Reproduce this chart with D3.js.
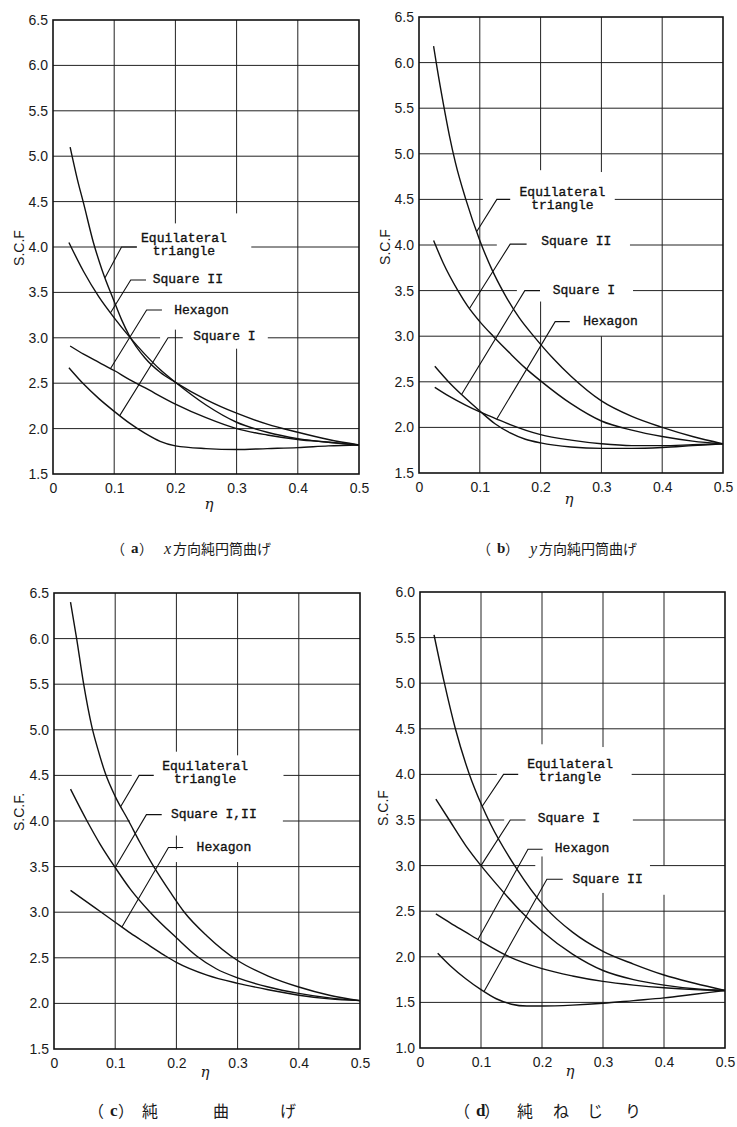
<!DOCTYPE html>
<html>
<head>
<meta charset="utf-8">
<script src="https://cdn.jsdelivr.net/npm/d3@7"></script>
<style>
  html, body { margin: 0; padding: 0; background: #fff; }
  svg { display: block; }
  .tick text { font-family: "Liberation Sans", Arial, sans-serif; font-size: 14px; fill: #1a1a1a; }
  .note { font-family: "Liberation Mono", monospace; font-size: 13px; fill: #111; stroke: #111; stroke-width: 0.35px; }
  .ytitle { font-family: "Liberation Sans", Arial, sans-serif; font-size: 14px; fill: #1a1a1a; }
  .eta { font-family: "DejaVu Serif", serif; font-style: italic; font-size: 15px; fill: #1a1a1a; }
  .cap { font-family: "Noto Sans CJK JP", sans-serif; fill: #1a1a1a; }
  .cap-lat { font-family: "Liberation Serif", serif; fill: #1a1a1a; }
</style>
</head>
<body>
<svg id="chart" width="737" height="1127"></svg>
<script>
// ---- axis ticks ----
const etaTicks = [0, 0.1, 0.2, 0.3, 0.4, 0.5];
const scfTicksHigh = [1.5, 2.0, 2.5, 3.0, 3.5, 4.0, 4.5, 5.0, 5.5, 6.0, 6.5];
const scfTicksLow = [1.0, 1.5, 2.0, 2.5, 3.0, 3.5, 4.0, 4.5, 5.0, 5.5, 6.0];

// ---- (a) cylindrical bending in x ----  [eta, S.C.F]
const aTriangle = [[0.028,5.10],[0.04,4.74],[0.05,4.48],[0.066,4.05],[0.08,3.75],[0.1,3.40],[0.112,3.20],[0.125,3.02],[0.15,2.78],[0.175,2.62],[0.2,2.51],[0.25,2.32],[0.3,2.17],[0.35,2.05],[0.4,1.96],[0.45,1.88],[0.5,1.82]];
const aSquare2  = [[0.026,4.05],[0.05,3.73],[0.075,3.45],[0.1,3.22],[0.125,3.01],[0.15,2.82],[0.175,2.65],[0.2,2.51],[0.25,2.26],[0.3,2.07],[0.35,1.96],[0.4,1.89],[0.45,1.85],[0.5,1.82]];
const aHexagon  = [[0.028,2.91],[0.05,2.82],[0.075,2.73],[0.1,2.64],[0.125,2.54],[0.15,2.45],[0.2,2.27],[0.25,2.12],[0.3,2.00],[0.35,1.93],[0.4,1.88],[0.45,1.85],[0.5,1.82]];
const aSquare1  = [[0.026,2.67],[0.05,2.49],[0.075,2.33],[0.1,2.19],[0.125,2.06],[0.15,1.95],[0.175,1.86],[0.2,1.81],[0.25,1.78],[0.3,1.77],[0.35,1.78],[0.4,1.79],[0.45,1.81],[0.5,1.82]];

// ---- (b) cylindrical bending in y ----
const bTriangle = [[0.024,6.18],[0.03,5.93],[0.04,5.55],[0.05,5.20],[0.06,4.90],[0.077,4.50],[0.1,4.05],[0.12,3.73],[0.14,3.47],[0.165,3.20],[0.19,2.99],[0.22,2.76],[0.25,2.56],[0.3,2.29],[0.35,2.12],[0.4,2.00],[0.45,1.90],[0.5,1.82]];
const bSquare2  = [[0.024,4.05],[0.04,3.80],[0.064,3.50],[0.08,3.33],[0.1,3.16],[0.122,3.00],[0.15,2.81],[0.175,2.65],[0.2,2.51],[0.25,2.26],[0.3,2.07],[0.35,1.97],[0.4,1.90],[0.45,1.85],[0.5,1.82]];
const bSquare1  = [[0.026,2.67],[0.05,2.49],[0.07,2.36],[0.1,2.18],[0.125,2.04],[0.15,1.94],[0.175,1.87],[0.2,1.83],[0.25,1.785],[0.3,1.77],[0.35,1.77],[0.4,1.78],[0.45,1.80],[0.5,1.82]];
const bHexagon  = [[0.026,2.44],[0.05,2.34],[0.075,2.25],[0.1,2.17],[0.125,2.10],[0.15,2.03],[0.2,1.92],[0.25,1.86],[0.3,1.82],[0.35,1.80],[0.4,1.80],[0.45,1.81],[0.5,1.82]];

// ---- (c) pure bending ----
const cTriangle = [[0.027,6.40],[0.037,6.00],[0.048,5.52],[0.062,5.03],[0.072,4.78],[0.084,4.52],[0.1,4.27],[0.122,4.00],[0.14,3.77],[0.163,3.50],[0.19,3.22],[0.213,3.00],[0.25,2.74],[0.3,2.47],[0.35,2.30],[0.4,2.18],[0.45,2.09],[0.5,2.03]];
const cSquare   = [[0.027,4.35],[0.054,4.00],[0.075,3.75],[0.1,3.49],[0.125,3.25],[0.157,3.00],[0.2,2.72],[0.233,2.52],[0.265,2.38],[0.3,2.28],[0.35,2.18],[0.4,2.11],[0.45,2.06],[0.5,2.03]];
const cHexagon  = [[0.027,3.24],[0.05,3.13],[0.075,3.01],[0.1,2.89],[0.125,2.77],[0.15,2.66],[0.18,2.53],[0.2,2.45],[0.25,2.31],[0.3,2.22],[0.35,2.15],[0.4,2.09],[0.45,2.05],[0.5,2.03]];

// ---- (d) pure torsion ----
const dTriangle = [[0.023,5.53],[0.04,5.00],[0.058,4.50],[0.081,4.00],[0.1,3.68],[0.116,3.45],[0.157,2.98],[0.204,2.55],[0.25,2.27],[0.3,2.06],[0.35,1.92],[0.4,1.80],[0.45,1.71],[0.5,1.63]];
const dSquare1  = [[0.026,3.73],[0.048,3.50],[0.075,3.22],[0.1,3.00],[0.125,2.80],[0.168,2.48],[0.2,2.28],[0.25,2.03],[0.3,1.85],[0.35,1.75],[0.4,1.69],[0.45,1.65],[0.5,1.63]];
const dHexagon  = [[0.026,2.47],[0.05,2.37],[0.075,2.27],[0.1,2.17],[0.14,2.02],[0.2,1.87],[0.25,1.79],[0.3,1.73],[0.35,1.69],[0.4,1.66],[0.45,1.64],[0.5,1.63]];
const dSquare2  = [[0.029,2.04],[0.05,1.90],[0.075,1.76],[0.1,1.64],[0.125,1.54],[0.15,1.48],[0.175,1.46],[0.2,1.46],[0.25,1.47],[0.3,1.49],[0.35,1.52],[0.4,1.55],[0.45,1.59],[0.5,1.63]];

// ---- layout of the four panels ----
const panels = [
  {
    box: {left: 53, right: 359, top: 20, bottom: 474},
    yDomain: [1.5, 6.5], yTicks: scfTicksHigh,
    series: [aTriangle, aSquare2, aHexagon, aSquare1],
    yTitle: "S.C.F", yTitleAt: [19, 248], etaAt: [209, 504],
    vGaps: [[0.2, 3.09, 4.26], [0.3, 2.88, 4.37]],
    hGaps: [[4.0, 0.137, 0.324], [3.0, 0.175, 0.351]],
    notes: [
      {series: aTriangle, tip: 0.085, elbow: [0.112, 4.0], end: [0.137, 4.0], text: ["Equilateral", "triangle"], at: [0.214, 4.017], anchor: "middle"},
      {series: aSquare2, tip: 0.094, elbow: [0.127, 3.637], end: [0.152, 3.637], text: ["Square II"], at: [0.163, 3.637], anchor: "start"},
      {series: aHexagon, tip: 0.094, elbow: [0.153, 3.306], end: [0.178, 3.306], text: ["Hexagon"], at: [0.198, 3.306], anchor: "start"},
      {series: aSquare1, tip: 0.109, elbow: [0.188, 3.0], end: [0.212, 3.0], text: ["Square I"], at: [0.229, 3.009], anchor: "start"}
    ],
    capY: 548, capSize: 14,
    caption: [["（", 58, "cjk"], ["a", 78, "bold"], ["）", 86, "cjk"], ["x", 111, "ital"], ["方向純円筒曲げ", 120, "cjk"]]
  },
  {
    box: {left: 419, right: 723, top: 17, bottom: 473},
    yDomain: [1.5, 6.5], yTicks: scfTicksHigh,
    series: [bTriangle, bSquare2, bSquare1, bHexagon],
    yTitle: "S.C.F", yTitleAt: [385, 247], etaAt: [569, 499],
    vGaps: [[0.2, 3.38, 4.82], [0.3, 3.0, 4.8]],
    hGaps: [[4.5, 0.105, 0.322], [4.0, 0.128, 0.347], [3.5, 0.161, 0.352]],
    notes: [
      {series: bTriangle, tip: 0.095, elbow: [0.128, 4.5], end: [0.15, 4.5], text: ["Equilateral", "triangle"], at: [0.236, 4.5], anchor: "middle"},
      {series: bSquare2, tip: 0.083, elbow: [0.15, 4.01], end: [0.177, 4.01], text: ["Square II"], at: [0.201, 4.033], anchor: "start"},
      {series: bSquare1, tip: 0.07, elbow: [0.174, 3.5], end: [0.199, 3.5], text: ["Square I"], at: [0.22, 3.5], anchor: "start"},
      {series: bHexagon, tip: 0.128, elbow: [0.224, 3.16], end: [0.248, 3.16], text: ["Hexagon"], at: [0.27, 3.159], anchor: "start"}
    ],
    capY: 548, capSize: 14,
    caption: [["（", 58, "cjk"], ["b", 78, "bold"], ["）", 86, "cjk"], ["y", 111, "ital"], ["方向純円筒曲げ", 120, "cjk"]]
  },
  {
    box: {left: 54, right: 360, top: 593, bottom: 1049},
    yDomain: [1.5, 6.5], yTicks: scfTicksHigh,
    series: [cTriangle, cSquare, cHexagon],
    yTitle: "S.C.F.", yTitleAt: [19, 812], etaAt: [205, 1072],
    vGaps: [[0.2, 3.84, 4.76], [0.2, 3.55, 3.69], [0.3, 3.55, 4.72]],
    hGaps: [[4.5, 0.127, 0.375], [4.0, 0.124, 0.374]],
    notes: [
      {series: cTriangle, tip: 0.109, elbow: [0.139, 4.5], end: [0.163, 4.5], text: ["Equilateral", "triangle"], at: [0.247, 4.523], anchor: "middle"},
      {series: cSquare, tip: 0.1, elbow: [0.151, 4.07], end: [0.176, 4.07], text: ["Square I,II"], at: [0.191, 4.069], anchor: "start"},
      {series: cHexagon, tip: 0.111, elbow: [0.187, 3.71], end: [0.211, 3.71], text: ["Hexagon"], at: [0.233, 3.712], anchor: "start"}
    ],
    capY: 1110, capSize: 16,
    caption: [["（", 34, "cjk"], ["c", 56, "bold"], ["）", 64, "cjk"], ["純", 88, "cjk"], ["曲", 159, "cjk"], ["げ", 226, "cjk"]]
  },
  {
    box: {left: 420, right: 725, top: 592, bottom: 1048},
    yDomain: [1.0, 6.0], yTicks: scfTicksLow,
    series: [dTriangle, dSquare1, dHexagon, dSquare2],
    yTitle: "S.C.F", yTitleAt: [383, 808], etaAt: [570, 1071],
    vGaps: [[0.2, 3.1, 4.33], [0.3, 2.7, 4.3], [0.4, 2.68, 3.0]],
    hGaps: [[4.0, 0.126, 0.347], [3.5, 0.138, 0.349], [3.0, 0.189, 0.377]],
    notes: [
      {series: dTriangle, tip: 0.102, elbow: [0.137, 4.0], end: [0.161, 4.0], text: ["Equilateral", "triangle"], at: [0.246, 4.032], anchor: "middle"},
      {series: dSquare1, tip: 0.1, elbow: [0.148, 3.5], end: [0.173, 3.5], text: ["Square I"], at: [0.193, 3.514], anchor: "start"},
      {series: dHexagon, tip: 0.095, elbow: [0.177, 3.18], end: [0.201, 3.18], text: ["Hexagon"], at: [0.221, 3.19], anchor: "start"},
      {series: dSquare2, tip: 0.105, elbow: [0.208, 2.85], end: [0.234, 2.85], text: ["Square II"], at: [0.25, 2.853], anchor: "start"}
    ],
    capY: 1110, capSize: 16,
    caption: [["（", 34, "cjk"], ["d", 56, "bold"], ["）", 64, "cjk"], ["純", 97, "cjk"], ["ね", 133, "cjk"], ["じ", 167, "cjk"], ["り", 205, "cjk"]]
  }
];

const svg = d3.select("#chart");

// split [lo, hi] into drawn pieces around the given gaps
function pieces(lo, hi, gaps) {
  const g = gaps.slice().sort((p, q) => p[0] - q[0]);
  const out = [];
  let cur = lo;
  g.forEach(([a, b]) => { if (a > cur) out.push([cur, a]); cur = Math.max(cur, b); });
  if (cur < hi) out.push([cur, hi]);
  return out;
}

// linear read-off of a curve at a given eta
function valueAt(series, eta) {
  for (let i = 1; i < series.length; i++) {
    const [x0, y0] = series[i - 1], [x1, y1] = series[i];
    if (eta <= x1) return y0 + (y1 - y0) * (eta - x0) / (x1 - x0);
  }
  return series[series.length - 1][1];
}

panels.forEach(p => {
  const x = d3.scaleLinear().domain([0, 0.5]).range([p.box.left, p.box.right]);
  const y = d3.scaleLinear().domain(p.yDomain).range([p.box.bottom, p.box.top]);
  const g = svg.append("g");

  // grid
  const grid = g.append("g").attr("stroke", "#222").attr("stroke-width", 1).attr("fill", "none");
  etaTicks.filter(t => t > 0 && t < 0.5).forEach(t => {
    const gaps = p.vGaps.filter(d => Math.abs(d[0] - t) < 1e-9).map(d => [d[1], d[2]]);
    pieces(p.yDomain[0], p.yDomain[1], gaps).forEach(([a, b]) => {
      grid.append("line").attr("x1", x(t)).attr("x2", x(t)).attr("y1", y(a)).attr("y2", y(b));
    });
  });
  p.yTicks.filter(t => t > p.yDomain[0] && t < p.yDomain[1]).forEach(t => {
    const gaps = p.hGaps.filter(d => Math.abs(d[0] - t) < 1e-9).map(d => [d[1], d[2]]);
    pieces(0, 0.5, gaps).forEach(([a, b]) => {
      grid.append("line").attr("x1", x(a)).attr("x2", x(b)).attr("y1", y(t)).attr("y2", y(t));
    });
  });

  // frame
  g.append("rect")
    .attr("x", p.box.left).attr("y", p.box.top)
    .attr("width", p.box.right - p.box.left).attr("height", p.box.bottom - p.box.top)
    .attr("fill", "none").attr("stroke", "#111").attr("stroke-width", 1.6);

  // axes (labels only)
  const yAxis = g.append("g")
    .attr("transform", `translate(${p.box.left},0)`)
    .call(d3.axisLeft(y).tickValues(p.yTicks).tickSize(0).tickPadding(5).tickFormat(d3.format(".1f")));
  yAxis.select(".domain").remove();
  const xAxis = g.append("g")
    .attr("transform", `translate(0,${p.box.bottom})`)
    .call(d3.axisBottom(x).tickValues(etaTicks).tickSize(0).tickPadding(9)
      .tickFormat(d => d === 0 ? "0" : d3.format(".1f")(d)));
  xAxis.select(".domain").remove();
  g.selectAll(".tick text").attr("fill", "#1a1a1a");

  // curves
  const line = d3.line().x(d => x(d[0])).y(d => y(d[1])).curve(d3.curveMonotoneX);
  g.append("g").selectAll("path").data(p.series).join("path")
    .attr("d", line).attr("fill", "none").attr("stroke", "#111").attr("stroke-width", 1.4);

  // leaders and their names
  const straight = d3.line().x(d => x(d[0])).y(d => y(d[1]));
  p.notes.forEach(n => {
    const pts = [[n.tip, valueAt(n.series, n.tip)], n.elbow, n.end];
    g.append("path").attr("d", straight(pts)).attr("fill", "none")
      .attr("stroke", "#111").attr("stroke-width", 1.1);
    const t = g.append("text").attr("class", "note")
      .attr("x", x(n.at[0])).attr("y", y(n.at[1]))
      .attr("text-anchor", n.anchor);
    n.text.forEach((s, i) => {
      const off = (i - (n.text.length - 1) / 2) * 13;
      t.append("tspan").attr("x", x(n.at[0])).attr("y", y(n.at[1]) + off)
        .attr("dominant-baseline", "central").text(s);
    });
  });

  // axis titles
  g.append("text").attr("class", "ytitle")
    .attr("transform", `translate(${p.yTitleAt[0]},${p.yTitleAt[1]}) rotate(-90)`)
    .attr("text-anchor", "middle").attr("dominant-baseline", "central").text(p.yTitle);
  g.append("text").attr("class", "eta")
    .attr("x", p.etaAt[0]).attr("y", p.etaAt[1])
    .attr("text-anchor", "middle").attr("dominant-baseline", "central").text("η");

  // caption
  const cap = g.append("text").attr("y", p.capY).attr("dominant-baseline", "central");
  p.caption.forEach(([s, off, kind]) => {
    const ts = cap.append("tspan").attr("x", p.box.left + off).text(s);
    if (kind === "cjk") ts.attr("class", "cap").attr("font-size", p.capSize);
    else if (kind === "bold") ts.attr("class", "cap-lat").attr("font-weight", "bold").attr("font-size", p.capSize + 1);
    else ts.attr("class", "cap-lat").attr("font-style", "italic").attr("font-size", p.capSize + 2);
  });
});
</script>
</body>
</html>
